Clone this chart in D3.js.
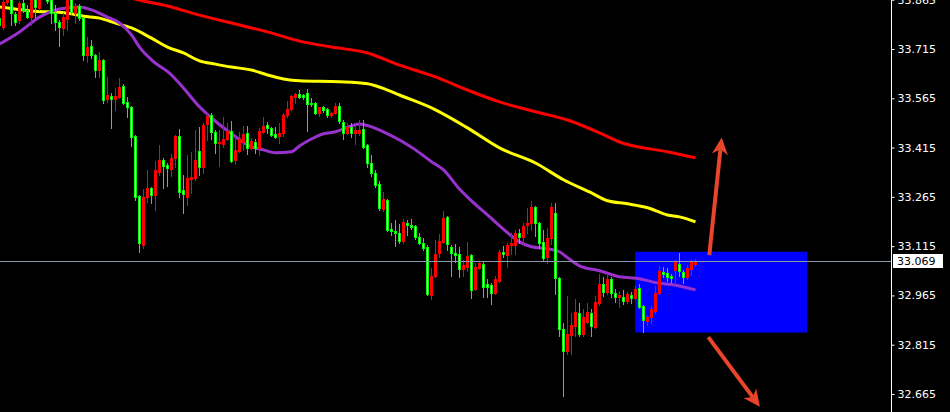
<!DOCTYPE html>
<html>
<head>
<meta charset="utf-8">
<script src="https://cdn.jsdelivr.net/npm/d3@7"></script>
<style>
  html, body { margin: 0; padding: 0; background: #000; }
  svg { display: block; }
</style>
</head>
<body>
<div id="chart"></div>
<script>
// ---- Price bars (first bar has index -1, partly cut by the left edge) ----
const firstIndex = -1;
const opens = [
  33.809,33.782,33.858,33.870,33.821,33.803,33.855,33.834,33.812,33.873,33.840,33.894,33.873,33.867,33.824,33.797,33.779,33.806,33.873,33.824,
  33.846,33.809,33.697,33.724,33.697,33.651,33.682,33.563,33.572,33.563,33.569,33.603,33.554,33.539,33.451,33.268,33.119,33.265,33.292,33.271,
  33.341,33.378,33.362,33.350,33.384,33.451,33.286,33.265,33.320,33.323,33.405,33.356,33.487,33.514,33.463,33.429,33.426,33.441,33.466,33.378,
  33.405,33.432,33.460,33.414,33.432,33.414,33.463,33.484,33.475,33.457,33.451,33.460,33.514,33.533,33.569,33.578,33.575,33.581,33.551,33.551,
  33.521,33.539,33.533,33.514,33.521,33.542,33.493,33.460,33.478,33.460,33.460,33.472,33.423,33.369,33.338,33.305,33.229,33.256,33.168,33.162,
  33.156,33.131,33.186,33.180,33.177,33.144,33.125,33.113,32.967,33.025,33.095,33.128,33.204,33.113,33.095,33.092,33.046,33.052,33.089,32.985,
  33.049,33.061,33.001,32.998,32.973,33.010,33.098,33.089,33.119,33.119,33.156,33.144,33.180,33.186,33.235,33.186,33.128,33.083,33.140,33.216,
  33.019,32.864,32.797,32.846,32.873,32.912,32.849,32.885,32.912,32.870,32.943,33.001,32.976,33.016,32.973,32.961,32.961,32.949,32.967,32.958,
  32.988,32.934,32.888,32.900,32.919,32.973,33.037,33.034,33.025,33.043,33.061,33.037,33.022,33.046,33.061
];
const highs = [
  33.821,33.876,33.888,33.882,33.828,33.861,33.870,33.849,33.879,33.882,33.888,33.907,33.882,33.876,33.849,33.803,33.824,33.888,33.882,33.855,
  33.852,33.812,33.752,33.742,33.700,33.706,33.685,33.630,33.581,33.596,33.627,33.609,33.569,33.542,33.454,33.271,33.289,33.347,33.296,33.375,
  33.423,33.384,33.369,33.396,33.454,33.472,33.332,33.393,33.402,33.469,33.478,33.490,33.521,33.521,33.469,33.469,33.508,33.490,33.496,33.448,
  33.463,33.481,33.481,33.444,33.441,33.475,33.508,33.493,33.478,33.478,33.490,33.521,33.557,33.575,33.581,33.590,33.578,33.593,33.566,33.554,
  33.539,33.542,33.536,33.524,33.551,33.551,33.499,33.490,33.490,33.484,33.499,33.499,33.426,33.393,33.347,33.314,33.280,33.259,33.186,33.195,
  33.183,33.198,33.195,33.198,33.180,33.156,33.140,33.119,33.049,33.134,33.153,33.223,33.207,33.119,33.122,33.113,33.074,33.128,33.092,33.064,
  33.071,33.067,33.016,33.004,33.025,33.104,33.116,33.125,33.156,33.165,33.168,33.186,33.232,33.253,33.238,33.189,33.165,33.171,33.247,33.247,
  33.022,32.882,32.964,32.912,32.955,32.943,32.925,32.943,32.925,32.964,33.031,33.022,33.034,33.022,32.985,32.979,32.982,32.976,32.976,32.995,
  33.001,32.937,32.906,32.934,32.995,33.055,33.052,33.049,33.031,33.074,33.095,33.043,33.058,33.074,33.077
];
const lows = [
  33.779,33.776,33.852,33.788,33.788,33.794,33.828,33.809,33.788,33.812,33.834,33.867,33.855,33.794,33.773,33.724,33.758,33.773,33.821,33.794,
  33.803,33.682,33.676,33.688,33.630,33.630,33.551,33.554,33.475,33.530,33.566,33.548,33.508,33.420,33.256,33.098,33.110,33.250,33.247,33.226,
  33.332,33.292,33.299,33.329,33.356,33.265,33.216,33.241,33.277,33.317,33.332,33.338,33.438,33.441,33.399,33.359,33.417,33.438,33.372,33.365,
  33.402,33.408,33.396,33.411,33.399,33.393,33.460,33.460,33.451,33.444,33.429,33.451,33.508,33.530,33.551,33.566,33.563,33.466,33.542,33.517,
  33.511,33.524,33.508,33.508,33.517,33.490,33.441,33.457,33.448,33.426,33.454,33.414,33.356,33.329,33.296,33.226,33.223,33.162,33.150,33.116,
  33.125,33.125,33.150,33.168,33.137,33.122,33.104,32.967,32.955,33.022,33.083,33.125,33.104,33.025,33.067,33.022,33.025,33.040,32.958,32.982,
  33.046,32.961,32.961,32.940,32.970,33.007,33.083,33.052,33.092,33.092,33.125,33.125,33.156,33.165,33.147,33.110,33.074,33.064,33.122,32.970,
  32.840,32.660,32.788,32.788,32.840,32.840,32.840,32.882,32.840,32.867,32.937,32.964,32.970,32.961,32.946,32.931,32.940,32.943,32.943,32.955,
  32.928,32.855,32.876,32.882,32.912,32.970,33.022,33.010,33.007,33.001,33.025,33.004,33.016,33.028,33.055
];
const closes = [
  33.788,33.858,33.876,33.824,33.797,33.855,33.834,33.812,33.870,33.843,33.879,33.873,33.861,33.824,33.797,33.782,33.812,33.876,33.828,33.846,
  33.809,33.697,33.721,33.697,33.651,33.682,33.560,33.575,33.563,33.572,33.600,33.551,33.539,33.448,33.265,33.125,33.265,33.292,33.271,33.347,
  33.378,33.359,33.353,33.384,33.451,33.280,33.274,33.323,33.326,33.378,33.356,33.484,33.511,33.463,33.429,33.432,33.441,33.466,33.375,33.408,
  33.441,33.457,33.414,33.435,33.414,33.466,33.481,33.475,33.454,33.448,33.460,33.514,33.533,33.572,33.578,33.569,33.569,33.548,33.548,33.521,
  33.539,33.530,33.514,33.521,33.542,33.496,33.460,33.478,33.460,33.469,33.469,33.417,33.369,33.338,33.302,33.232,33.259,33.165,33.162,33.156,
  33.131,33.189,33.180,33.174,33.144,33.125,33.110,32.970,33.025,33.092,33.131,33.201,33.122,33.095,33.089,33.046,33.058,33.086,32.982,33.052,
  33.064,32.991,32.991,32.973,33.016,33.098,33.092,33.119,33.125,33.156,33.144,33.177,33.186,33.235,33.186,33.125,33.080,33.140,33.235,33.019,
  32.864,32.797,32.849,32.876,32.916,32.849,32.900,32.916,32.873,32.946,33.001,32.976,33.016,32.973,32.961,32.967,32.949,32.970,32.958,32.985,
  32.931,32.891,32.900,32.925,32.973,33.040,33.031,33.022,33.019,33.067,33.040,33.022,33.049,33.067,33.069
];

// ---- Moving averages, sampled at bar indices ----
const maSlowIdx = [30,35,41,49,57,66,74,82,91,99,108,116,124,133,141,149,154,166,173];
const maSlowVal = [33.876,33.861,33.846,33.818,33.794,33.767,33.739,33.721,33.703,33.666,33.630,33.590,33.554,33.524,33.499,33.460,33.432,33.402,33.384];
const maMidIdx = [-1,7,16,20,24,28,32,37,41,45,49,53,57,62,66,70,74,84,91,96,99,108,116,124,133,140,147,151,156,161,166,169,173];
const maMidVal = [33.843,33.831,33.824,33.815,33.809,33.794,33.779,33.748,33.721,33.703,33.679,33.669,33.660,33.651,33.636,33.624,33.618,33.615,33.609,33.590,33.575,33.530,33.475,33.414,33.368,33.317,33.277,33.253,33.244,33.232,33.210,33.204,33.189];
const maFastIdx = [-1,4,9,14,19,22,26,29,32,34,37,42,45,49,52,57,62,65,68,72,74,77,80,83,87,89,92,95,99,103,107,110,114,117,121,126,129,132,136,139,141,144,149,154,159,163,167,173];
const maFastVal = [33.730,33.767,33.812,33.837,33.843,33.834,33.812,33.794,33.758,33.721,33.682,33.636,33.596,33.539,33.505,33.457,33.417,33.408,33.399,33.402,33.420,33.441,33.457,33.463,33.481,33.487,33.478,33.463,33.438,33.408,33.372,33.347,33.289,33.253,33.210,33.156,33.128,33.113,33.107,33.098,33.080,33.055,33.040,33.022,33.016,33.004,32.998,32.982];

// ---- Price axis and markup ----
const priceTicks = [32.665,32.815,32.965,33.115,33.265,33.415,33.565,33.715,33.865];
const lastPrice = 33.069;
const zoneIdx = [157.9, 200.9];
const zonePrice = [32.852, 33.098];
const arrowUp = {from: [176.45, 33.088], to: [179.55, 33.446]};
const arrowDown = {from: [176.2, 32.838], to: [189.1, 32.626]};

const W = 950, H = 412, plotRight = 891;

const x = d3.scaleLinear().domain([0, 173]).range([3.5, 695.5]);
const y = d3.scaleLinear().domain([32.665, 33.715]).range([394, 49]);

const svg = d3.select("#chart").append("svg")
  .attr("width", W).attr("height", H)
  .style("background", "#000");

svg.append("defs").append("clipPath").attr("id", "plot")
  .append("rect").attr("x", 0).attr("y", 0).attr("width", plotRight).attr("height", H);

const plot = svg.append("g").attr("clip-path", "url(#plot)");

// zone box behind the price bars
plot.append("rect")
  .attr("x", x(zoneIdx[0])).attr("width", x(zoneIdx[1]) - x(zoneIdx[0]))
  .attr("y", y(zonePrice[1])).attr("height", y(zonePrice[0]) - y(zonePrice[1]))
  .attr("fill", "#0000ff");

// moving averages
const maLine = d3.line().x(d => x(d[0])).y(d => y(d[1])).curve(d3.curveMonotoneX);
[[maSlowIdx, maSlowVal, "#ff0000"], [maMidIdx, maMidVal, "#ffff00"], [maFastIdx, maFastVal, "#9932cc"]]
  .forEach(([ix, vs, col]) => {
    plot.append("path")
      .attr("d", maLine(ix.map((k, i) => [k, vs[i]])))
      .attr("fill", "none").attr("stroke", col).attr("stroke-width", 3)
      .attr("stroke-linejoin", "round");
  });

// candlesticks: rising bars red, falling bars green with light body
const bars = opens.map((o, i) => ({k: firstIndex + i, o, h: highs[i], l: lows[i], c: closes[i]}));
const gBars = plot.append("g").attr("shape-rendering", "crispEdges");
bars.forEach(b => {
  const up = b.c >= b.o;
  const cx = x(b.k);
  const col = up ? "#ff0000" : "#00ff00";
  gBars.append("line")
    .attr("x1", cx).attr("x2", cx)
    .attr("y1", Math.round(y(b.h))).attr("y2", Math.round(y(b.l)) + 1)
    .attr("stroke", col).attr("stroke-width", 1);
  const top = Math.round(y(Math.max(b.o, b.c)));
  const bot = Math.max(top + 1, Math.round(y(Math.min(b.o, b.c))));
  if (up) {
    gBars.append("rect")
      .attr("x", cx - 1.5).attr("width", 3)
      .attr("y", top).attr("height", bot - top + 1)
      .attr("fill", col);
  } else {
    gBars.append("rect")
      .attr("x", cx - 1).attr("width", 2)
      .attr("y", top + 0.5).attr("height", Math.max(1, bot - top))
      .attr("fill", "#f4fff4").attr("stroke", col).attr("stroke-width", 1);
  }
});

// last price line
const yLast = y(lastPrice);
plot.append("line")
  .attr("x1", 0).attr("x2", plotRight)
  .attr("y1", Math.round(yLast) + 0.5).attr("y2", Math.round(yLast) + 0.5)
  .attr("stroke", "#8a9aaa").attr("stroke-width", 1);

// arrows
function drawArrow(a) {
  const x0 = x(a.from[0]), y0 = y(a.from[1]);
  const x1 = x(a.to[0]), y1 = y(a.to[1]);
  const len = Math.hypot(x1 - x0, y1 - y0);
  const ux = (x1 - x0) / len, uy = (y1 - y0) / len;
  const px = -uy, py = ux;
  const headLen = 17, headHalf = 8, notch = 12;
  const col = "#e8452c";
  svg.append("line")
    .attr("x1", x0).attr("y1", y0)
    .attr("x2", x1 - ux * notch).attr("y2", y1 - uy * notch)
    .attr("stroke", col).attr("stroke-width", 4);
  const bx = x1 - ux * headLen, by = y1 - uy * headLen;
  svg.append("polygon")
    .attr("points", [
      [x1, y1],
      [bx + px * headHalf, by + py * headHalf],
      [x1 - ux * notch, y1 - uy * notch],
      [bx - px * headHalf, by - py * headHalf]
    ].map(p => p.join(",")).join(" "))
    .attr("fill", col);
}
drawArrow(arrowUp);
drawArrow(arrowDown);

// price axis on the right
const axis = d3.axisRight(y)
  .tickValues(priceTicks)
  .tickSize(3).tickPadding(3)
  .tickFormat(d3.format(".3f"));
const gAxis = svg.append("g")
  .attr("transform", `translate(${plotRight + 0.5},0)`)
  .call(axis);
gAxis.select(".domain").remove();
gAxis.selectAll(".tick line").attr("stroke", "#ffffff");
gAxis.selectAll(".tick text")
  .attr("fill", "#ffffff")
  .style("font-family", "'DejaVu Sans', sans-serif")
  .style("font-size", "11px");
svg.append("line")
  .attr("x1", plotRight + 0.5).attr("x2", plotRight + 0.5)
  .attr("y1", 0).attr("y2", H)
  .attr("stroke", "#ffffff").attr("stroke-width", 1);

// last price tag
svg.append("rect")
  .attr("x", plotRight + 2).attr("y", Math.round(yLast) - 7)
  .attr("width", 50).attr("height", 14)
  .attr("fill", "#ffffff");
svg.append("text")
  .attr("x", plotRight + 6).attr("y", Math.round(yLast) + 0.5)
  .attr("dy", "0.35em")
  .attr("fill", "#000000")
  .style("font-family", "'DejaVu Sans', sans-serif")
  .style("font-size", "11px")
  .text(d3.format(".3f")(lastPrice));
</script>
</body>
</html>
